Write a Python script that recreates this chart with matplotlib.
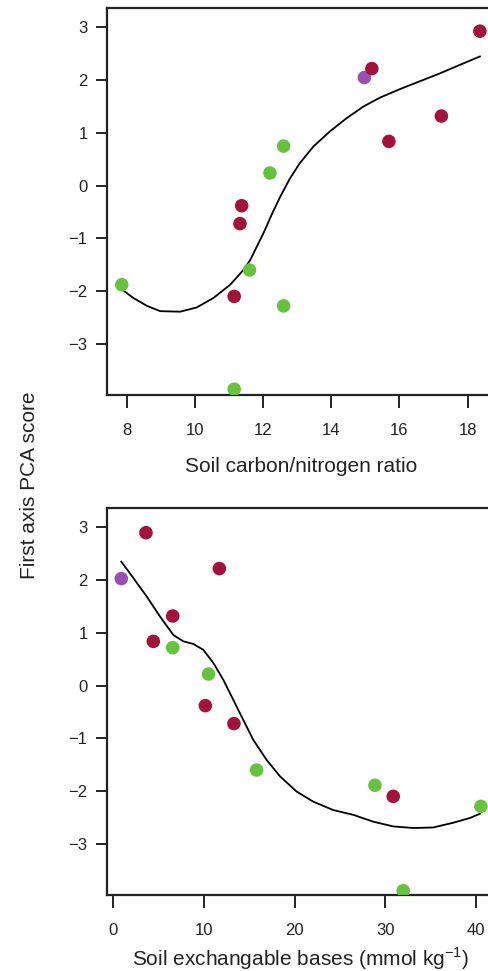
import matplotlib
matplotlib.use('Agg')
import matplotlib.pyplot as plt

plt.rcParams['font.family'] = ['Liberation Sans', 'DejaVu Sans']

# Sample colours (same 14 samples in both panels)
red = '#a3123a'
green = '#66c23f'
purple = '#9a4fb3'

# Top panel: soil C/N ratio vs first axis PCA score
cn_x = [7.85, 11.15, 11.15, 11.6, 11.32, 11.37, 12.2, 12.6, 12.6, 14.97, 15.19, 15.69, 17.23, 18.36]
cn_y = [-1.88, -3.86, -2.10, -1.60, -0.72, -0.38, 0.24, 0.75, -2.28, 2.05, 2.22, 0.84, 1.32, 2.93]
cn_c = [green, green, red, green, red, red, green, green, green, purple, red, red, red, red]

# smoothed curve
cn_fit_x = [7.82, 8.19, 8.59, 8.98, 9.56, 10.05, 10.54, 11.03, 11.42, 11.62, 11.81, 12.01, 12.25,
            12.50, 12.79, 13.08, 13.47, 13.96, 14.45, 14.94, 15.43, 16.01, 16.60, 17.19, 17.77, 18.36]
cn_fit_y = [-1.95, -2.13, -2.28, -2.38, -2.39, -2.31, -2.13, -1.88, -1.60, -1.41, -1.16, -0.90, -0.55,
            -0.21, 0.14, 0.43, 0.74, 1.03, 1.28, 1.50, 1.67, 1.83, 1.98, 2.13, 2.29, 2.45]

# Bottom panel: exchangeable bases vs first axis PCA score
eb_x = [0.88, 3.6, 4.41, 6.55, 6.55, 10.5, 10.15, 11.69, 13.3, 15.8, 28.85, 30.87, 31.97, 40.54]
eb_y = [2.03, 2.90, 0.84, 1.32, 0.72, 0.22, -0.38, 2.22, -0.72, -1.60, -1.89, -2.10, -3.89, -2.29]
eb_c = [purple, red, red, red, green, green, red, red, red, green, green, red, green, green]

eb_fit_x = [0.88, 2.21, 3.68, 5.15, 6.62, 7.72, 8.82, 9.92, 11.03, 12.13, 13.23, 14.33, 15.44,
            16.91, 18.38, 20.22, 22.05, 24.26, 26.46, 28.67, 30.87, 33.08, 35.28, 37.49, 39.33, 40.43]
eb_fit_y = [2.35, 2.04, 1.69, 1.31, 0.96, 0.84, 0.79, 0.68, 0.43, 0.11, -0.27, -0.65, -1.03,
            -1.41, -1.72, -2.01, -2.20, -2.36, -2.45, -2.58, -2.67, -2.70, -2.69, -2.60, -2.51, -2.43]

fig = plt.figure(figsize=(4.89, 9.71), dpi=100)
ax1 = fig.add_axes([0.219, 0.5932, 0.793, 0.3986])
ax2 = fig.add_axes([0.219, 0.0783, 0.793, 0.3986])

panels = [
    (ax1, cn_x, cn_y, cn_c, cn_fit_x, cn_fit_y, (7.42, 18.80), [8, 10, 12, 14, 16, 18],
     'Soil carbon/nitrogen ratio', -0.186),
    (ax2, eb_x, eb_y, eb_c, eb_fit_x, eb_fit_y, (-0.69, 42.08), [0, 10, 20, 30, 40],
     'Soil exchangable bases (mmol kg$^{\\mathregular{-1}}$)', -0.165),
]

for ax, x, y, c, fx, fy, xlim, xticks, xlabel, lab_y in panels:
    ax.plot(fx, fy, color='black', lw=1.3, zorder=2)
    ax.scatter(x, y, c=c, s=95, edgecolors='none', zorder=3)
    ax.set_xlim(*xlim)
    ax.set_ylim(-3.97, 3.37)
    ax.set_xticks(xticks)
    ax.set_yticks([-3, -2, -1, 0, 1, 2, 3])
    ax.spines['right'].set_visible(False)
    for s in ['left', 'top', 'bottom']:
        ax.spines[s].set_linewidth(1.6)
        ax.spines[s].set_color('#222222')
    ax.tick_params(axis='y', direction='out', length=8, width=1.4, pad=6, labelsize=12, colors='#222222')
    ax.tick_params(axis='x', direction='out', length=9, width=1.4, pad=11, labelsize=12, colors='#222222')
    ax.set_xlabel(xlabel, fontsize=15, color='#222222')
    ax.xaxis.set_label_coords(0.5, lab_y)
    ax.xaxis.label.set_va('center')

fig.text(30 / 489, 0.5, 'First axis PCA score', rotation=90, ha='center', va='center',
         fontsize=15, color='#222222')

fig.savefig('out.png', dpi=100)
